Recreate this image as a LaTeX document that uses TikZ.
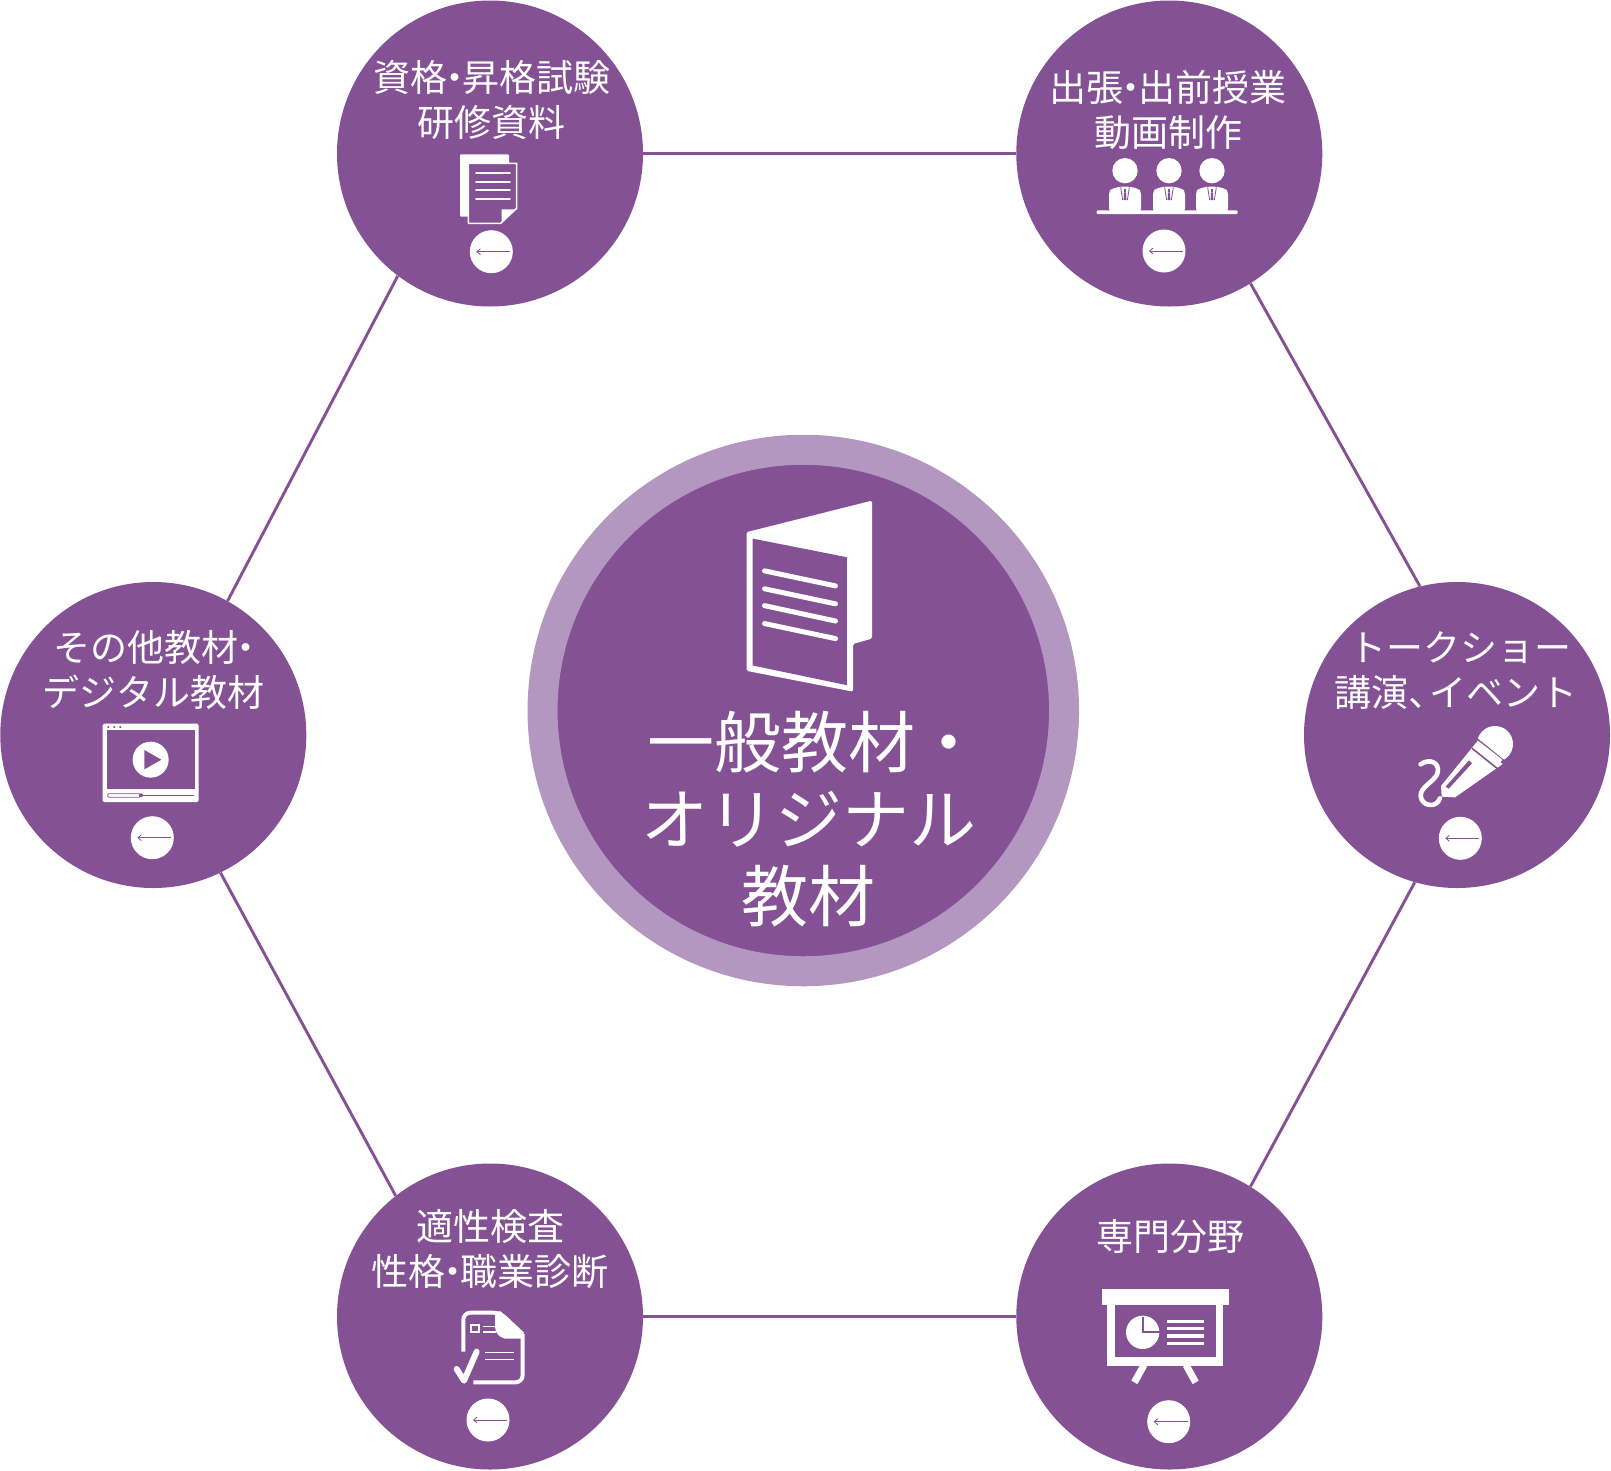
\documentclass[tikz,border=0pt]{standalone}
\usepackage{fontspec}
\setmainfont{Noto Sans CJK JP}
\usetikzlibrary{arrows.meta}
\definecolor{pur}{HTML}{845195}
\definecolor{ringc}{HTML}{B397C1}
\newcommand{\nkg}{\kern-0.3em ・\kern-0.3em }
\tikzset{
  hub/.style={circle,fill=pur,minimum size=306pt,inner sep=0pt},
  core/.style={circle,fill=pur,draw=ringc,line width=30pt,minimum size=521.5pt,inner sep=0pt},
  dot/.style={circle,fill=white,minimum size=43pt,inner sep=0pt},
  link/.style={draw=pur,line width=2.9pt},
  backarrow/.style={draw=pur,line width=0.8pt,{Straight Barb[length=3.5pt,width=6pt]}-},
  label/.style={text=white,align=center,font=\fontsize{37}{45}\selectfont,inner sep=0pt},
  biglabel/.style={text=white,align=center,font=\fontsize{67}{77}\selectfont,inner sep=0pt},
  zoomA/.style={x=0.33333pt,y=-0.33333pt}
}
\begin{document}
\begin{tikzpicture}[x=1pt,y=-1pt]
\useasboundingbox (0,0) rectangle (1611,1470);
% nodes
\node[hub] (tl) at (490,153.5) {};
\node[hub] (tr) at (1169.3,153.5) {};
\node[hub] (lf) at (153.3,735) {};
\node[hub] (rt) at (1457,735) {};
\node[hub] (bl) at (490,1316.5) {};
\node[hub] (br) at (1169.3,1316.5) {};
\node[core] (ct) at (803.3,710.5) {};
% connectors
\draw[link] (tl.east) -- (tr.west);
\draw[link] (bl.-0.6) -- (br.180.6);
\draw[link] (tl.233.5) -- (lf.61);
\draw[link] (lf.-64) -- (bl.128.3);
\draw[link] (tr.-58.5) -- (rt.104);
\draw[link] (rt.254.5) -- (br.58);
% labels
\node[label] (tltext) at (491.7,100) {資格\nkg 昇格試験\\研修資料};
\node[label] (trtext) at (1168,110) {出張\nkg 出前授業\\動画制作};
\node[label] (lftext) at (153.5,670) {その他教材\nkg\\デジタル教材};
\node[label] (rttext) at (1456,670.7) {\hspace*{8pt}トークショー\\講演、\kern-0.45em イベント};
\node[label] (bltext) at (490,1249) {適性検査\\性格\nkg 職業診断};
\node[label] (brtext) at (1170.5,1237) {専門分野};
\node[biglabel] (cttext) at (808.5,819) {\hspace*{12pt}一般教材・\\オリジナル\\教材};
% small circles with arrows
\node[dot] (d1) at (491.3,251.7) {};
\node[dot] (d2) at (1164,251) {};
\node[dot] (d3) at (152.3,837.7) {};
\node[dot] (d4) at (1460.3,838.3) {};
\node[dot] (d5) at (488,1420) {};
\node[dot] (d6) at (1168.7,1421.7) {};
\foreach \d in {d1,d2,d3,d4,d5,d6}
  \draw[backarrow] ([xshift=-15pt]\d.center) -- ([xshift=19pt]\d.center);
% icon: documents
\begin{scope}[shift={(330,0)},zoomA]
  \fill[white,rounded corners=1pt] (390,463) rectangle (537,650);
  \draw[fill=pur,draw=white,line width=1.5pt,line join=round] (415,490) -- (560,490) -- (560,625) -- (512,670) -- (415,670) -- cycle;
  \fill[white] (515,668) -- (515,628) -- (556,628) -- cycle;
  \draw[white,line width=1.7pt,line cap=round] (438,520) -- (540,520) (438,546) -- (540,546) (438,570) -- (540,570) (438,596) -- (540,596);
\end{scope}
% icon: three people at a table
\begin{scope}[shift={(1010,0)},zoomA]
  \foreach \c in {345,477,606} {
    \fill[white] (\c,512) circle[radius=38];
    \fill[white,rounded corners=3pt] (\c-48,635) -- (\c-48,575) -- (\c-40,566) -- (\c-14,560) -- (\c+14,560) -- (\c+40,566) -- (\c+48,575) -- (\c+48,635) -- cycle;
    \draw[pur,line width=0.8pt] (\c-13,562) -- (\c-7,600) (\c+13,562) -- (\c+7,600);
    \fill[pur] (\c-4,566) rectangle (\c+4,575);
    \fill[pur] (\c-3,577) -- (\c+3,577) -- (\c+4,600) -- (\c-4,600) -- cycle;
  }
  \fill[white,rounded corners=1pt] (260,631) rectangle (683,642);
\end{scope}
% icon: video window
\begin{scope}[shift={(0,580)},zoomA]
  \fill[white,rounded corners=1.5pt] (308,431) rectangle (596,666);
  \fill[pur] (320,451) rectangle (585,627);
  \fill[pur] (325,441) circle[radius=3.5] (343,441) circle[radius=3.5] (361,441) circle[radius=3.5];
  \draw[pur,line width=1.2pt] (420,646) -- (582,646);
  \draw[pur,line width=0.7pt,rounded corners=1pt] (323,641) rectangle (420,652);
  \fill[pur] (423,646) circle[radius=6];
  \fill[white] (452,539) circle[radius=54];
  \fill[pur] (433,510) -- (484,539) -- (433,568) -- cycle;
\end{scope}
% icon: microphone
\begin{scope}[shift={(1300,580)},zoomA]
  \fill[white] (585,492) circle[radius=54];
  \fill[white] (527,490) -- (608,552) -- (465,652) -- (425,650) -- (423,618) -- cycle;
  \draw[pur,line width=1.6pt] (525,472) -- (615,545);
  \draw[pur,line width=1.6pt] (516,505) -- (600,572);
  \fill[white] (535,483) -- (606,538) -- (600,549) -- (526,490) -- cycle;
  \fill[pur] (507,541) -- (516,550) -- (446,626) -- (437,620) -- cycle;
  \draw[white,line width=4.6pt,line cap=round] (362,553) .. controls (385,535) and (420,545) .. (413,578) .. controls (405,605) and (360,620) .. (362,648) .. controls (365,680) and (410,685) .. (420,655);
\end{scope}
% icon: checked sheet
\begin{scope}[shift={(330,1150)},zoomA]
  \draw[white,line width=3.9pt,rounded corners=7pt] (400,605) -- (400,488) -- (510,488) -- (578,552);
  \draw[white,line width=3.9pt,rounded corners=7pt] (578,552) -- (578,697) -- (430,697);
  \fill[white] (495,484) -- (512,484) -- (582,552) -- (582,566) -- (525,566) .. controls (505,560) and (497,550) .. (495,530) -- cycle;
  \draw[white,line width=2pt] (424,526) rectangle (446,546);
  \draw[white,line width=1.5pt] (460,530) -- (497,530) (460,546) -- (497,546);
  \draw[white,line width=1.7pt] (465,607) -- (552,607) (465,628) -- (552,628);
  \draw[white,line width=6pt,line cap=round,line join=round] (380,657) -- (402,692) -- (440,605);
\end{scope}
% icon: presentation board
\begin{scope}[shift={(1010,1150)},zoomA]
  \fill[white] (275,418) rectangle (656,466);
  \fill[white] (292,466) rectangle (640,647);
  \fill[pur] (316,466) rectangle (617,622);
  \draw[white,line width=7pt] (402,645) -- (373,697) (528,645) -- (557,697);
  \fill[white] (398,547) circle[radius=50];
  \draw[pur,line width=1.8pt] (400,500) -- (400,545) -- (450,545);
  \draw[white,line width=3.5pt] (472,515) -- (582,515) (472,536) -- (582,536) (472,558) -- (582,558) (472,580) -- (582,580);
\end{scope}
% icon: open folder in the centre
\begin{scope}[shift={(519,430)},x=0.3584pt,y=-0.3584pt]
  \fill[white,rounded corners=1.5pt] (635,285) -- (985,197) -- (985,582) -- (932,597) -- (932,730) -- (635,672) -- cycle;
  \fill[pur] (652,303) -- (915,355) -- (915,712) -- (652,657) -- cycle;
  \draw[white,line width=5pt,line cap=round] (685,393) -- (883,435) (685,443) -- (883,485) (685,490) -- (883,533) (685,540) -- (883,582);
\end{scope}
\end{tikzpicture}
\end{document}
